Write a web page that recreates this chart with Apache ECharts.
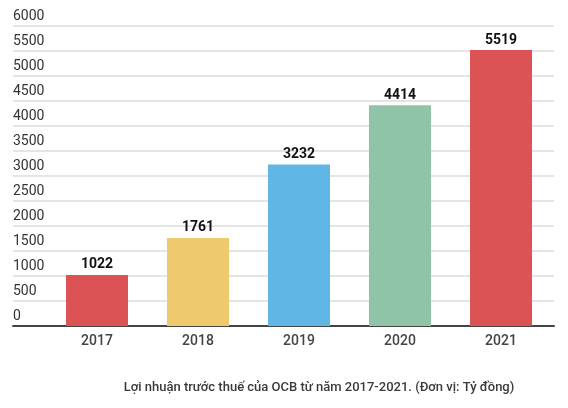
<!DOCTYPE html>
<html>
<head>
<meta charset="utf-8">
<script src="https://cdn.jsdelivr.net/npm/echarts@6/dist/echarts.min.js"></script>
<style>
  html, body { margin: 0; padding: 0; background: #fff; }
  #main { width: 568px; height: 408px; }
</style>
</head>
<body>
<div id="main"></div>
<script>
var years = ['2017', '2018', '2019', '2020', '2021'];
var profit = [1022, 1761, 3232, 4414, 5519];
var barColors = ['#dc5356', '#efca6c', '#60b6e4', '#8fc4a8', '#dc5356'];
var yTicks = { min: 0, max: 6000, step: 500 };
var caption = 'Lợi nhuận trước thuế của OCB từ năm 2017-2021. (Đơn vị: Tỷ đồng)';

var chart = echarts.init(document.getElementById('main'), null, { renderer: 'canvas' });

chart.setOption({
    animation: false,
    textStyle: { fontFamily: 'Roboto' },
    title: {
        text: caption,
        left: 314,
        textAlign: 'center',
        top: 376,
        textStyle: { fontSize: 13, fontWeight: 500, color: '#3a3a3a' }
    },
    // grid 0 carries the gridlines, y labels and baseline; grid 1 carries the bars
    grid: [
        { left: 13, right: 14, top: 26, bottom: 82 },
        { left: 46.5, right: 16.5, top: 26, bottom: 82 }
    ],
    xAxis: [
        {
            gridIndex: 0, type: 'value', min: 0, max: 1,
            axisLine: { show: true, lineStyle: { color: '#444', width: 2 } },
            axisTick: { show: false }, axisLabel: { show: false }, splitLine: { show: false }
        },
        {
            gridIndex: 1, type: 'category', data: years,
            axisLine: { show: false }, axisTick: { show: false },
            axisLabel: { color: '#444', fontSize: 14, fontWeight: 500, margin: 8 }
        }
    ],
    yAxis: [
        {
            gridIndex: 0, type: 'value', min: yTicks.min, max: yTicks.max, interval: yTicks.step,
            axisLine: { show: false }, axisTick: { show: false },
            axisLabel: {
                inside: true, margin: 0, verticalAlign: 'bottom', align: 'left',
                color: '#333', fontSize: 14, lineHeight: 14, padding: [0, 0, 3, 0],
                formatter: function (v) { return String(v); }
            },
            splitLine: { lineStyle: { color: '#dcdcdc', width: 1.5 } }
        },
        {
            gridIndex: 1, type: 'value', min: yTicks.min, max: yTicks.max,
            show: false, splitLine: { show: false }
        }
    ],
    series: [{
        type: 'bar',
        xAxisIndex: 1,
        yAxisIndex: 1,
        barWidth: 62,
        data: profit.map(function (v, i) {
            return { value: v, itemStyle: { color: barColors[i] } };
        }),
        label: {
            show: true, position: 'top', distance: 3,
            color: '#111', fontSize: 14, fontWeight: 'bold'
        }
    }]
});
</script>
</body>
</html>
